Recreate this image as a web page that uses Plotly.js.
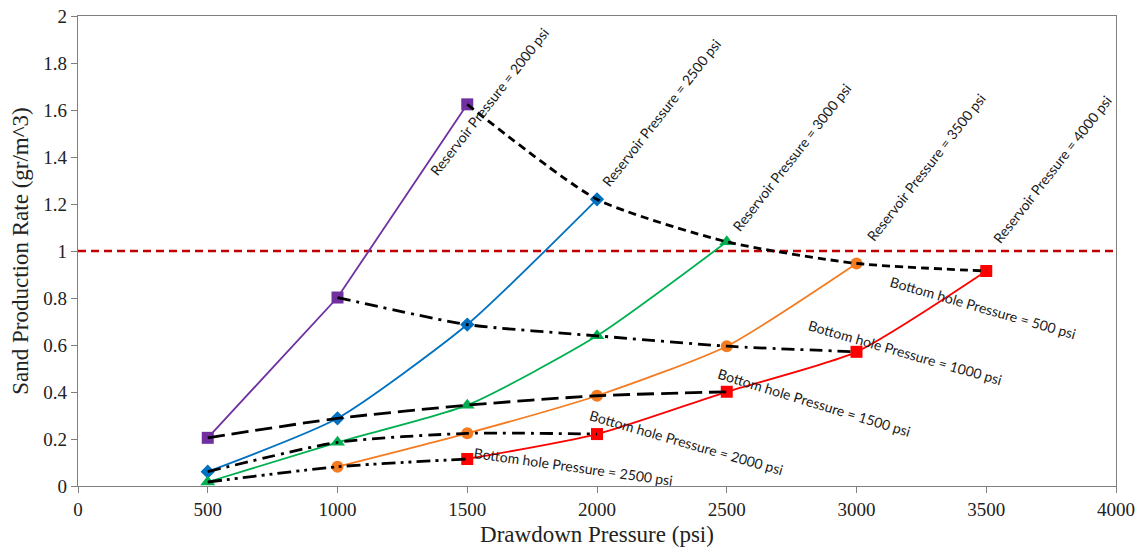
<!DOCTYPE html>
<html>
<head>
<meta charset="utf-8">
<script src="https://cdn.plot.ly/plotly-3.0.1.min.js"></script>
<style>
  html, body { margin: 0; padding: 0; background: #ffffff; }
  #chart { width: 1140px; height: 549px; }
</style>
</head>
<body>
<div id="chart"></div>
<script>
// Sand production rate (gr/m^3) against drawdown pressure (psi), one series per reservoir pressure
const res2000 = { x: [500, 1000, 1500], y: [0.205, 0.802, 1.624] };
const res2500 = { x: [500, 1000, 1500, 2000], y: [0.061, 0.288, 0.687, 1.220] };
const res3000 = { x: [500, 1000, 1500, 2000, 2500], y: [0.017, 0.186, 0.344, 0.639, 1.039] };
const res3500 = { x: [1000, 1500, 2000, 2500, 3000], y: [0.082, 0.224, 0.384, 0.595, 0.947] };
const res4000 = { x: [1500, 2000, 2500, 3000, 3500], y: [0.115, 0.221, 0.401, 0.571, 0.915] };

// Constant bottom-hole pressure curves (same points, joined across reservoirs)
const bhp500  = { x: [1500, 2000, 2500, 3000, 3500], y: [1.624, 1.220, 1.039, 0.947, 0.915] };
const bhp1000 = { x: [1000, 1500, 2000, 2500, 3000], y: [0.802, 0.687, 0.639, 0.595, 0.571] };
const bhp1500 = { x: [500, 1000, 1500, 2000, 2500], y: [0.205, 0.288, 0.344, 0.384, 0.401] };
const bhp2000 = { x: [500, 1000, 1500, 2000], y: [0.061, 0.186, 0.224, 0.221] };
const bhp2500 = { x: [500, 1000, 1500], y: [0.017, 0.082, 0.115] };

// Limit line
const limitRate = 1;

const resLabels = ['Reservoir Pressure = 2000 psi', 'Reservoir Pressure = 2500 psi',
                   'Reservoir Pressure = 3000 psi', 'Reservoir Pressure = 3500 psi',
                   'Reservoir Pressure = 4000 psi'];
const bhpLabels = ['Bottom hole Pressure = 500 psi', 'Bottom hole Pressure = 1000 psi',
                   'Bottom hole Pressure = 1500 psi', 'Bottom hole Pressure = 2000 psi',
                   'Bottom hole Pressure = 2500 psi'];

const xTicks = [0, 500, 1000, 1500, 2000, 2500, 3000, 3500, 4000];
const yTicks = [0, 0.2, 0.4, 0.6, 0.8, 1, 1.2, 1.4, 1.6, 1.8, 2];

function bhpTrace(s, dash) {
  return {
    x: s.x, y: s.y, type: 'scatter', mode: 'lines',
    line: { color: '#000000', width: 2.8, dash: dash, shape: 'spline', smoothing: 0.6 },
    hoverinfo: 'skip'
  };
}

function resTrace(s, color, symbol, size, shape) {
  return {
    x: s.x, y: s.y, type: 'scatter', mode: 'lines+markers',
    line: { color: color, width: 1.8, shape: shape || 'spline', smoothing: 0.6 },
    marker: { color: color, symbol: symbol, size: size }
  };
}

const traces = [
  {
    x: [0, 4000], y: [limitRate, limitRate], type: 'scatter', mode: 'lines',
    line: { color: '#C00000', width: 2.4, dash: '8px,5px' }, hoverinfo: 'skip'
  },
  resTrace(res2000, '#7030A0', 'square', 12, 'linear'),
  resTrace(res2500, '#0070C0', 'diamond', 11),
  resTrace(res3000, '#00B050', 'triangle-up', 13),
  resTrace(res3500, '#F47B20', 'circle', 12),
  resTrace(res4000, '#FF0000', 'square', 12),
  bhpTrace(bhp500, '8px,5px'),
  bhpTrace(bhp1000, '13px,6px,3px,6px'),
  bhpTrace(bhp1500, '17px,7px'),
  bhpTrace(bhp2000, '13px,6px,3px,6px'),
  bhpTrace(bhp2500, '14px,5px,3px,5px,3px,5px')
];

const labelFont = { family: 'Lato, "Open Sans", sans-serif', size: 14, color: '#1a1a1a' };

// label anchor points (data coordinates) and angles
const resPos = [[1585, 1.637], [2248, 1.590], [2750, 1.397], [3267, 1.356], [3753, 1.348]];
const bhpPos = [[3486, 0.761], [3189, 0.570], [2838, 0.357], [2345, 0.185], [1909, 0.081]];
const bhpAngle = [16, 16, 17, 16, 8];

const annotations = [];
resLabels.forEach((t, i) => annotations.push({
  text: t, x: resPos[i][0], y: resPos[i][1], xref: 'x', yref: 'y',
  showarrow: false, textangle: -52, font: labelFont, xanchor: 'center', yanchor: 'middle'
}));
bhpLabels.forEach((t, i) => annotations.push({
  text: t, x: bhpPos[i][0], y: bhpPos[i][1], xref: 'x', yref: 'y',
  showarrow: false, textangle: bhpAngle[i], font: labelFont, xanchor: 'center', yanchor: 'middle'
}));

const axisFont = { family: '"Liberation Serif", "Times New Roman", serif', size: 19, color: '#222222' };
const titleFont = { family: '"Liberation Serif", "Times New Roman", serif', size: 23, color: '#222222' };

const layout = {
  width: 1140, height: 549,
  margin: { l: 78, r: 24, t: 16, b: 63 },
  paper_bgcolor: '#ffffff', plot_bgcolor: '#ffffff',
  showlegend: false,
  xaxis: {
    range: [0, 4000], tickvals: xTicks, ticktext: xTicks.map(String),
    showgrid: false, zeroline: false, showline: true, mirror: true,
    linecolor: '#7f7f7f', linewidth: 1.2, ticks: 'outside', ticklen: 6, tickcolor: '#7f7f7f',
    tickfont: axisFont,
    title: { text: 'Drawdown Pressure (psi)', font: titleFont, standoff: 6 }
  },
  yaxis: {
    range: [0, 2], tickvals: yTicks, ticktext: yTicks.map(String),
    showgrid: false, zeroline: false, showline: true, mirror: true,
    linecolor: '#7f7f7f', linewidth: 1.2, ticks: 'outside', ticklen: 6, tickcolor: '#7f7f7f',
    tickfont: axisFont,
    title: { text: 'Sand Production Rate (gr/m^3)', font: titleFont, standoff: 8 }
  },
  annotations: annotations
};

Plotly.newPlot('chart', traces, layout, { displayModeBar: false, staticPlot: true });
</script>
</body>
</html>
